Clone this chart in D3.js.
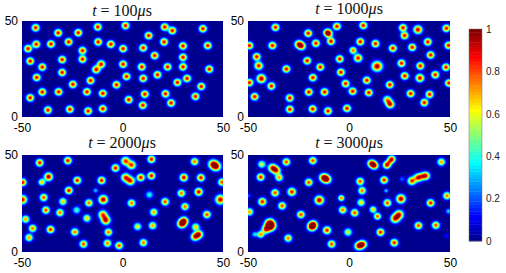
<!DOCTYPE html>
<html><head><meta charset="utf-8">
<style>html,body{margin:0;padding:0;background:#fff}svg{display:block}</style>
<script src="https://cdn.jsdelivr.net/npm/d3@7"></script>
</head><body><div id="chart"></div>
<script>
// Each blob: [x, y, peak, width]; peak and width default to 0.92 and 1.
const blobs100 = [[-43.2,46.5],[-32,43.8],[-22,43.9],[-12.3,46.9],[1.5,47.6],[21,46.9],[24.8,45],[40,46],[13,42.4],[-42.9,37.9],[-47,35.6],[-35.6,38],[-26.8,39.1],[-12.1,39.1],[-5.8,37.9],[.3,35.6],[10.3,36],[20.7,39.1],[30.1,37],[42.4,37.2],[-19.9,34.6],[-19.9,30.1],[-45.9,29.1],[-30,29.9],[-39.9,26],[-10.6,27.5,.92,1.05],[-13.1,24.7,.92,1.05],[.3,27.5],[9.6,26.1],[16,32],[30.1,31.1],[30.1,26.1],[22.4,26.1],[43.2,24.9],[-30,23.2],[-42.7,20.6],[2,21.1],[10.3,20.1],[17.4,22],[27.3,18],[32.1,20.1],[39.2,15.9],[-15.9,19],[-24.7,17],[-3,16.8],[-39.9,13],[-31.8,13.1],[-17.7,13.1],[-9.8,12.3],[11.1,11.9],[21.4,12.1],[-45.9,10],[36.3,10.7],[3.1,9],[24.2,7.3],[10.1,6.1],[-37.1,3.6],[-26.2,4],[-17.1,3.1],[-9.8,4.3]];
const blobs1000 = [[-36.4,46.7],[-20.2,43.6],[-10.7,44,.9,1.05],[-9.8,43,.5],[-6,47.2],[7.1,47.7],[26.7,46.5],[27.5,42.4],[34.1,45.5,.95,1.15],[48.2,46.2],[-49.3,37.2],[-37.9,37.2],[-25,38,.75,1.1],[-23.4,36.9,.8,1.1],[-16.4,38.4],[-8.9,39.4],[5.6,39.2],[13.1,38.2],[21.7,35.8],[31.3,36.3],[39,39.1],[49.3,37.3],[-45.7,31.4],[-44.7,26.7,.9,1.1],[-31,25],[-20.7,29.3],[-14.2,26],[-4.6,30.2],[2,34.7,.8,.95],[4.5,30.7,.9,1.1],[13.9,26.4,1,1.4],[26,28],[40.4,32.3],[35.3,26.6],[48,25.9],[-49.3,17.9],[-43.4,20,1,1.2],[-38.4,16.1],[-17.9,20.5],[-4,23.3],[-1.7,17.4],[8.8,19.1],[20.2,16.8],[27.6,21.4],[35.1,20.3,.95,1.1],[42.7,22],[49.5,17.7],[-46.7,10.6],[-29.3,9.9],[-19.9,13],[-12.1,13],[1.8,13.4],[9.8,12.7],[30.5,12.2],[39.9,11.8],[37.3,7.5],[18.9,9,.7,1.1],[20.4,6.6,.9,1.1],[-29.3,4],[-18,4.2],[-10.4,3.1],[-1,4.5]];
const blobs2000 = [[-41.2,46],[-27.2,47.1],[-3.5,43.3],[1.5,46.9,.85,1.15],[4.5,44.8,.85,1.15],[14.4,47.8],[35.9,46.6,.8],[45,45.3,.85,1.25],[46.7,44,.85,1.25],[-49.7,35.9],[-40.1,36,.7,.9],[-36.8,38.8,1,1.1],[-22.5,36.9],[-10.4,36.9],[1.5,38.4,.85,1.15],[4,36.6,.85,1.15],[9.1,38.4],[14.4,39.3],[30.5,38.4,.95,1.05],[39,38.3],[49.5,36,.85],[-13.4,31.7,.33,.7],[-26.7,31.7],[-39.2,28.1,.85],[-49.8,27,.95,1.2],[-29.6,26,.7],[-16.7,25.3,.8],[-9.6,27,1,1.2],[4.5,25.2,.8],[13.4,29.5,.4,1.05],[21.2,25.9,.85],[29.3,30.3,.8],[37.9,31,.95,1.05],[48.7,27,.95,1.3],[31.1,23.4,.8],[-38.1,21.6,.85],[-31.1,20.3,.8],[-22.8,21.6,.45,1.05],[15.6,20.5,.75],[42,19.3,.85],[-48.2,16.9,.75],[-17.7,17.4,.7],[-9.8,19.3,.8,1.15],[-8.3,16.4,.95,1.2],[30.6,16,.9,1.15],[29.4,14.4,.9,1.15],[-44.7,12.2,.8],[-35.8,11.6,.9],[7.5,13.1,.65],[15,13.6,.75],[36.4,12.9,.7],[-23.7,10.3,.8],[-7,10.2,.8],[38,9.1,.9,1.1],[36,7.8,.8,1.1],[-46.5,7.4,.75],[-19.4,4.1,.85],[-7.5,4.5,.8],[-1.7,3.3,.85],[10.4,4.8,.8]];
const blobs3000 = [[-43.2,45.2,.62],[-31,46.4,.85],[-17.9,47.1,.85],[45.7,46.4,.75],[-37.9,43.4,.85,1.15],[-35.9,42,.8,1.1],[-34.6,38.4,.75,1],[-43.7,38.6,.9],[-19.9,35.9,.85],[-12.6,38.4,.88,1.15],[-10.9,37.4,.88,1.15],[11.1,45.7,.85,1.05],[12.6,44.5,.85,1.05],[21.2,47.9,.88,1],[20,46.4,.4,.9],[18.7,44.8,.9,1],[5.5,36.4,.85],[17.4,37.1,.9],[26.2,37.6,.22,.75],[31.1,36.6,.85,1.1],[34.1,38.3,.82,1.1],[36,39,.4,1],[38,39.3,.88,1.1],[18.4,31.6,.35,.6],[6.5,31.6,.8],[-36.6,30.5,.85],[-28.3,31,.9,1.1],[-3.8,27.8,.8,.8],[-49.7,29,.2,.7],[48.5,29,.8],[-42.9,25.9,.9,1.05],[-14.7,26.7,1,1.2],[6,25.5,.68],[19,25.3,.85],[25.7,27.4,1,1.2],[40.4,25.3,.9],[-33.1,23.8,.85],[-49.3,20.7,.75],[-23.8,19.3,.85],[-3.1,21.7,.8],[2.8,20.2,.85],[11.9,21.9,.7,.9],[14.1,18.4,.85,.9],[24.8,19.3,.88,1.2],[22.8,17.2,.88,1.2],[49.3,21,.35,.8],[-39.2,14.7,1,1.3],[-38.7,13.2,.9,1.3],[-41.2,11.6,.8,1.1],[-43.7,9,.75,.9],[-46.7,9.1,.35,.8],[-17.7,14.1,.9,1.15],[-18.5,12.9,.85,1.15],[-10.9,11.2,.9,1.05],[-.5,10.2,.62,1.05],[15.6,10.2,.9],[34.4,13.6,.85],[43,13.8,.85],[48.2,8.4,.13,.7],[-30.1,7.1,.8],[-8.6,4.1,.85],[6.8,4,.9,1.1],[4.8,3.1,.9,1.1],[22.4,4.8,.9]];
const titleValues = ["100","1000","2000","3000"];
const panelBlobs = [blobs100, blobs1000, blobs2000, blobs3000];
const xTicks = [-50,0,50], xTickLabels = ["-50","0","50"];
const yTicks = [0,50], yTickLabels = ["0","50"];
const cbTicks = [0,.2,.4,.6,.8,1], cbTickLabels = ["0","0.2","0.4","0.6","0.8","1"];
const jetStops = [0,.111,.365,.619,.873,1];
const jetColors = ["#00008f","#0000ff","#00ffff","#ffff00","#ff0000","#800000"];
const blobSpread = 1.22;

const W = 506, H = 273;
const jet = d3.scaleLinear().domain(jetStops).range(jetColors).clamp(true);
const svg = d3.select("#chart").append("svg").attr("width",W).attr("height",H)
  .style("font-family","'Liberation Sans',Arial,sans-serif");

const layout = [
  {l:22, r:223, t:21, b:117, tx:122, ty:16},
  {l:248,r:450, t:21, b:117, tx:349, ty:14},
  {l:22, r:223, t:155,b:252, tx:122, ty:148},
  {l:248,r:450, t:155,b:252, tx:349, ty:148}
];
const levels = d3.range(1,64).map(i=>i/64);
const nx = 240, ny = 120;

function field(blobs){
  const v = new Float64Array(nx*ny);
  for(let j=0;j<ny;j++){
    const y = 50-(j+.5)*50/ny;
    for(let i=0;i<nx;i++){
      const x = -50+(i+.5)*100/nx;
      let s = 0;
      for(const [bx,by,a=.92,w=1] of blobs){
        const d2 = (x-bx)*(x-bx)+(y-by)*(y-by);
        const r = w*blobSpread;
        s += a*Math.exp(-d2/(2*r*r));
      }
      v[j*nx+i] = Math.min(s,1);
    }
  }
  return v;
}

layout.forEach((p,k)=>{
  const x = d3.scaleLinear().domain([-50,50]).range([p.l,p.r]);
  const y = d3.scaleLinear().domain([0,50]).range([p.b,p.t]);
  const g = svg.append("g");
  g.append("rect").attr("x",p.l).attr("y",p.t).attr("width",p.r-p.l).attr("height",p.b-p.t).attr("fill",jet(0));
  const contours = d3.contours().size([nx,ny]).smooth(true).thresholds(levels)(field(panelBlobs[k]));
  const gx = d3.scaleLinear().domain([0,nx]).range([-50,50]);
  const gy = d3.scaleLinear().domain([0,ny]).range([50,0]);
  const path = d3.geoPath(d3.geoTransform({point(a,b){this.stream.point(x(gx(a)),y(gy(b)));}}));
  g.selectAll("path").data(contours).join("path")
    .attr("d",path).attr("fill",d=>jet(d.value+1/128)).attr("stroke","none");

  const ax = svg.append("g").attr("transform",`translate(0,${p.b})`)
    .call(d3.axisBottom(x).tickValues(xTicks).tickFormat((d,i)=>xTickLabels[i]).tickSize(0).tickPadding(6));
  ax.select(".domain").remove();
  const ay = svg.append("g").attr("transform",`translate(${p.l},0)`)
    .call(d3.axisLeft(y).tickValues(yTicks).tickFormat((d,i)=>yTickLabels[i]).tickSize(0).tickPadding(4));
  ay.select(".domain").remove();
  [ax,ay].forEach(a=>a.selectAll("text").attr("font-size",12).attr("font-family","'Liberation Sans',Arial,sans-serif").attr("fill","#000"));

  const t = svg.append("text").attr("x",p.tx).attr("y",p.ty).attr("text-anchor","middle")
    .attr("font-family","'Liberation Serif',serif").attr("font-size",16).attr("fill","#111");
  t.append("tspan").attr("font-style","italic").text("t");
  t.append("tspan").text(` = ${titleValues[k]}`);
  t.append("tspan").attr("font-style","italic").text("μ");
  t.append("tspan").text("s");
});

// colour bar
const cb = {l:469,r:482,t:29,b:241};
const cy = d3.scaleLinear().domain([0,1]).range([cb.b,cb.t]);
const cells = d3.range(64);
svg.append("g").selectAll("rect").data(cells).join("rect")
  .attr("x",cb.l).attr("width",cb.r-cb.l)
  .attr("y",d=>cy((d+1)/64)).attr("height",d=>cy(d/64)-cy((d+1)/64)+.4)
  .attr("fill",d=>jet(d/63));
svg.append("rect").attr("x",cb.l).attr("y",cb.t).attr("width",cb.r-cb.l).attr("height",cb.b-cb.t)
  .attr("fill","none").attr("stroke","#777").attr("stroke-width",.5);
const cax = svg.append("g").attr("transform",`translate(${cb.r},0)`)
  .call(d3.axisRight(cy).tickValues(cbTicks).tickFormat((d,i)=>cbTickLabels[i]).tickSize(0).tickPadding(4));
cax.select(".domain").remove();
cax.selectAll("text").attr("font-size",10).attr("font-family","'Liberation Sans',Arial,sans-serif").attr("fill","#222");
</script></body></html>
